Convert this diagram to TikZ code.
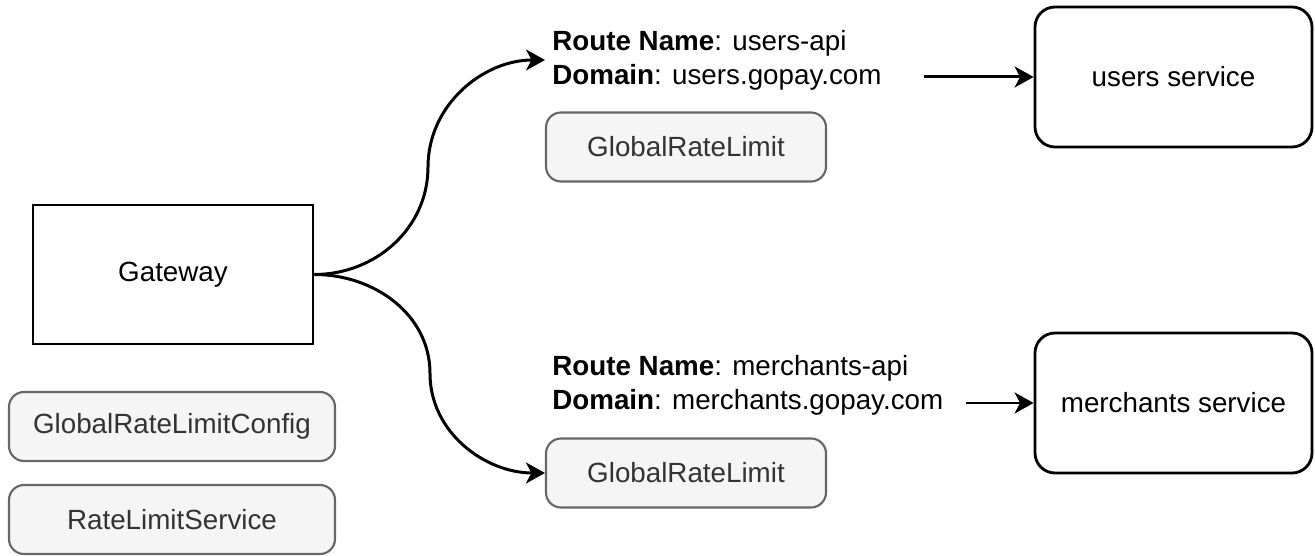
\documentclass[tikz,border=0pt]{standalone}
\usepackage{fontspec}
\setmainfont{Liberation Sans}
\usetikzlibrary{arrows.meta}

\definecolor{boxgray}{HTML}{F5F5F5}
\definecolor{linegray}{HTML}{666666}
\definecolor{textgray}{HTML}{333333}

\begin{document}
\begin{tikzpicture}[
    font=\fontsize{15.8}{19.4}\selectfont,
    plainbox/.style={draw=black, line width=1.6pt, minimum width=5.6cm, minimum height=2.78cm},
    service/.style={plainbox, rounded corners=0.4cm, minimum width=5.54cm, minimum height=2.8cm},
    limitbox/.style={draw=linegray, fill=boxgray, text=textgray, line width=1.2pt, rounded corners=0.3cm, minimum height=1.38cm},
    routetext/.style={align=left, anchor=west, inner xsep=0.14cm},
    flow/.style={line width=1.7pt, -{Stealth[length=0.38cm, width=0.42cm, inset=0.11cm]}}
]
    \useasboundingbox (0,0) rectangle (26.3,11.12);

    % Gateway y recursos
    \node[plainbox] (gw) at (3.46, 5.63) {Gateway};
    \node[limitbox, minimum width=6.52cm] (cfg) at (3.44, 2.59) {GlobalRateLimitConfig};
    \node[limitbox, minimum width=6.52cm] (rls) at (3.44, 0.73) {RateLimitService};

    % Rutas
    \node[routetext] (rt1) at (10.9, 9.92) {\textbf{Route Name}: users-api\\\textbf{Domain}: users.gopay.com};
    \node[limitbox, minimum width=5.6cm] (grl1) at (13.72, 8.18) {GlobalRateLimit};
    \node[routetext] (rt2) at (10.9, 3.41) {\textbf{Route Name}: merchants-api\\\textbf{Domain}: merchants.gopay.com};
    \node[limitbox, minimum width=5.6cm] (grl2) at (13.72, 1.66) {GlobalRateLimit};

    % Servicios
    \node[service] (usr) at (23.47, 9.58) {users service};
    \node[service] (mer) at (23.47, 3.06) {merchants service};

    % Puntos de paso
    \coordinate (up) at (8.56, 7.78);
    \coordinate (down) at (8.6, 3.65);
    \coordinate (u0) at (18.48, 9.58);
    \coordinate (m0) at (19.32, 3.06);

    % Flechas
    \draw[flow] (gw.east) to[out=0, in=-90] (up) to[out=90, in=180] (rt1.west);
    \draw[flow] (gw.east) to[out=0, in=90] (down) to[out=-90, in=180] (grl2.west);
    \draw[flow] (u0) -- (usr.west);
    \draw[flow] (m0) -- (mer.west);
\end{tikzpicture}
\end{document}
